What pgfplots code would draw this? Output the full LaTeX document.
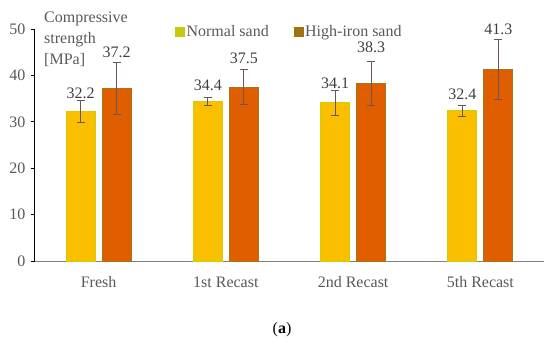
\documentclass[border=0pt]{standalone}
\usepackage{fontspec}
\setmainfont{Liberation Serif}
\usepackage{pgfplots}
\pgfplotsset{compat=1.18}
\definecolor{barA}{HTML}{FAC000}
\definecolor{edgeA}{HTML}{CDD000}
\definecolor{barB}{HTML}{E05E00}
\definecolor{edgeB}{HTML}{A07818}
\definecolor{legA}{HTML}{C8C810}
\definecolor{legB}{HTML}{9E7410}
\definecolor{txtgray}{HTML}{595959}
\definecolor{lblgray}{HTML}{404040}
\definecolor{errcol}{HTML}{6A5656}
\begin{document}
\begin{tikzpicture}
\path[use as bounding box] (-35pt,-88pt) rectangle (515pt,261pt);
\begin{axis}[
  scale only axis, width=509pt, height=232pt,
  xmin=-0.5, xmax=3.5, ymin=0, ymax=50,
  ytick={0,10,...,50},
  xtick={0,1,2,3},
  xticklabels={Fresh,1st Recast,2nd Recast,5th Recast},
  axis x line*=bottom, axis y line*=left,
  x axis line style={draw=gray, line width=1pt, -},
  y axis line style={draw=black, line width=1pt, -},
  tick align=outside, major tick length=4pt,
  ytick style={draw=black, line width=1pt},
  xtick style={draw=none},
  tick label style={font=\fontsize{16}{18}\selectfont, text=txtgray},
  /pgf/number format/assume math mode=true,
  xticklabel style={yshift=-8pt},
  yticklabel style={xshift=-2pt},
  ybar, bar width=0.228,
  legend style={draw=none, fill=none, at={(rel axis cs:0.275,0.99)}, anchor=west,
    legend columns=2, inner sep=0pt, font=\fontsize{16}{18}\selectfont, text=txtgray,
    nodes={inner sep=2pt}},
  /tikz/every even column/.append style={column sep=23pt},
  clip=false,
]
\addlegendimage{legend image code/.code={\fill[legA] (0pt,-4.5pt) rectangle (9pt,4.5pt);}}
\addlegendentry{Normal sand}
\addlegendimage{legend image code/.code={\fill[legB] (0pt,-4.5pt) rectangle (9pt,4.5pt);}}
\addlegendentry{High-iron sand}

\addplot[forget plot, fill=barA, draw=edgeA, line width=1pt, bar shift=-0.1416,
  error bars/.cd, y dir=both, y explicit,
  error bar style={line width=1pt, errcol},
  error mark options={rotate=90, mark size=4pt, line width=1pt, errcol}]
  coordinates {(0,32.2) +- (0,2.4) (1,34.4) +- (0,0.8) (2,34.1) +- (0,2.7) (3,32.4) +- (0,1.2)};
\addplot[forget plot, fill=barB, draw=edgeB, line width=1pt, bar shift=0.1416,
  error bars/.cd, y dir=both, y explicit,
  error bar style={line width=1pt, errcol},
  error mark options={rotate=90, mark size=4pt, line width=1pt, errcol}]
  coordinates {(0,37.2) +- (0,5.6) (1,37.5) +- (0,3.8) (2,38.3) +- (0,4.7) (3,41.3) +- (0,6.4)};

% value labels
\addplot[forget plot, draw=none, fill=none, bar shift=-0.1416,
  nodes near coords, point meta=explicit symbolic,
  nodes near coords style={anchor=south, inner sep=0pt, yshift=0pt, text=lblgray, font=\fontsize{16}{18}\selectfont}]
  coordinates {(0,34.9)[32.2] (1,36.7)[34.4] (2,37.0)[34.1] (3,34.7)[32.4]};
\addplot[forget plot, draw=none, fill=none, bar shift=0.1416,
  nodes near coords, point meta=explicit symbolic,
  nodes near coords style={anchor=south, inner sep=0pt, yshift=0pt, text=lblgray, font=\fontsize{16}{18}\selectfont}]
  coordinates {(0,43.7)[37.2] (1,42.5)[37.5] (2,44.8)[38.3] (3,48.7)[41.3]};
\end{axis}
\node[anchor=north west, align=left, inner sep=0pt, text=txtgray, font=\fontsize{16}{18}\selectfont] at (9pt,249pt) {Compressive\\[3pt]strength\\[3pt]{[}MPa{]}};
\node[font=\fontsize{16}{18}\selectfont] at (247pt,-69pt) {(\textbf{a})};
\end{tikzpicture}
\end{document}
